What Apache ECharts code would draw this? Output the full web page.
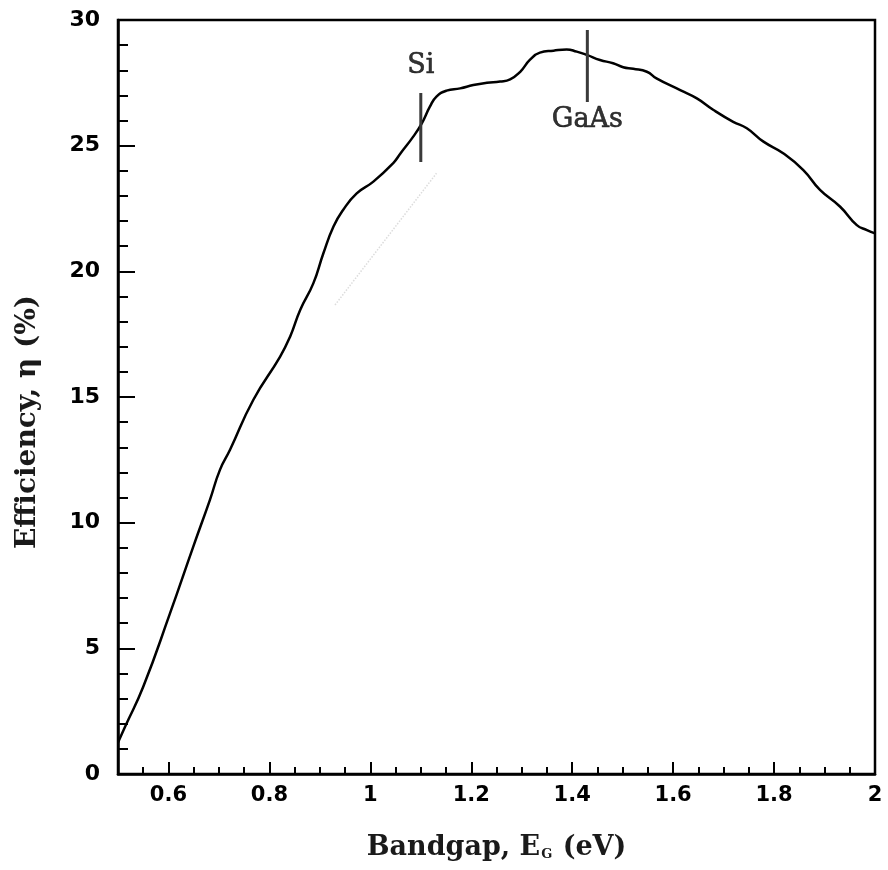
<!DOCTYPE html>
<html>
<head>
<meta charset="utf-8">
<script src="https://cdn.jsdelivr.net/npm/echarts@6/dist/echarts.min.js"></script>
<style>
html,body{margin:0;padding:0;background:#fff;}
#c{width:888px;height:870px;}
</style>
</head>
<body>
<div id="c"></div>
<script>
// Data
const bandgap = [0.5, 0.514, 0.55, 0.603, 0.649, 0.682, 0.702, 0.722, 0.768, 0.821, 0.841, 0.861, 0.887, 0.907, 0.927, 0.946, 0.973, 1.006, 1.045, 1.06, 1.085, 1.102, 1.118, 1.131, 1.151, 1.178, 1.204, 1.231, 1.257, 1.277, 1.297, 1.316, 1.336, 1.363, 1.389, 1.409, 1.429, 1.455, 1.481, 1.501, 1.521, 1.548, 1.567, 1.614, 1.647, 1.68, 1.719, 1.746, 1.779, 1.818, 1.858, 1.891, 1.931, 1.964, 1.984, 2.0];
const efficiency = [1.25, 1.88, 3.47, 6.39, 9.04, 10.9, 12.1, 12.9, 14.88, 16.6, 17.4, 18.46, 19.52, 20.72, 21.78, 22.44, 23.1, 23.57, 24.3, 24.7, 25.36, 25.89, 26.55, 26.95, 27.19, 27.28, 27.41, 27.5, 27.55, 27.64, 27.94, 28.41, 28.7, 28.78, 28.83, 28.74, 28.61, 28.41, 28.28, 28.12, 28.06, 27.94, 27.68, 27.21, 26.88, 26.42, 25.95, 25.69, 25.16, 24.7, 24.03, 23.24, 22.57, 21.84, 21.64, 21.51];
const faintX = [0.93, 1.131];
const faintY = [18.66, 23.9];
const siMarkX = [1.1, 1.1];
const siMarkY = [24.35, 27.1];
const gaasMarkX = [1.43, 1.43];
const gaasMarkY = [26.74, 29.6];
const materialNames = ['Si', 'GaAs'];
const xTickLabels = [0.6, 0.8, 1, 1.2, 1.4, 1.6, 1.8, 2];

const zip = (a, b) => a.map((v, i) => [v, b[i]]);

const chart = echarts.init(document.getElementById('c'), null, {renderer: 'canvas'});
const labelFont = {fontFamily: 'DejaVu Sans', fontWeight: 'bold', color: '#000'};
const serif = 'DejaVu Serif';

chart.setOption({
  animation: false,
  backgroundColor: '#fff',
  grid: {left: 118, top: 20, right: 13, bottom: 96, show: true, borderColor: '#000', borderWidth: 2.5, backgroundColor: 'transparent'},
  xAxis: [{
    type: 'value', min: 0.5, max: 2, interval: 0.05,
    axisLine: {show: true, lineStyle: {color: '#000', width: 2.5}},
    axisTick: {show: true, inside: true, length: 7, lineStyle: {color: '#000', width: 2}},
    axisLabel: {show: true, customValues: xTickLabels, margin: 11, fontSize: 21, ...labelFont},
    splitLine: {show: false},
    name: '{m|Bandgap, E}{sub|G}{m| (eV)}',
    nameLocation: 'middle', nameGap: 60,
    nameTextStyle: {fontFamily: serif, fontWeight: 'bold', fontSize: 27, color: '#1a1a1a',
      rich: {
        m: {fontFamily: serif, fontWeight: 'bold', fontSize: 27, lineHeight: 27, color: '#1a1a1a', verticalAlign: 'top'},
        sub: {fontFamily: serif, fontWeight: 'bold', fontSize: 13, lineHeight: 13, color: '#1a1a1a', verticalAlign: 'bottom', padding: [22, 1, 0, 1]}
      }}
  }, {
    type: 'value', min: 0.5, max: 2, position: 'bottom', gridIndex: 0,
    axisLine: {show: false},
    axisTick: {show: true, inside: true, length: 12, customValues: xTickLabels, lineStyle: {color: '#000', width: 2}},
    axisLabel: {show: false},
    splitLine: {show: false}
  }],
  yAxis: {
    type: 'value', min: 0, max: 30, interval: 5,
    axisLine: {show: true, lineStyle: {color: '#000', width: 2.5}},
    axisTick: {show: true, inside: true, length: 17, lineStyle: {color: '#000', width: 2}},
    minorTick: {show: true, splitNumber: 5, length: 10, lineStyle: {color: '#000', width: 2}},
    axisLabel: {margin: 18, fontSize: 22, ...labelFont},
    splitLine: {show: false}
  },
  graphic: [{
    type: 'text', x: 28, y: 422, rotation: Math.PI / 2,
    style: {text: 'Efficiency, η (%)', font: 'bold 28px "DejaVu Serif"', fill: '#1a1a1a', align: 'center', verticalAlign: 'middle'}
  }],
  series: [{
    type: 'line', data: zip(bandgap, efficiency), smooth: 0.5, showSymbol: false,
    lineStyle: {color: '#000', width: 2.5}
  }, {
    type: 'line', data: zip(faintX, faintY), showSymbol: false,
    lineStyle: {color: '#dcdcdc', width: 1.5, type: 'dotted'}
  }, {
    type: 'line', showSymbol: false, data: zip(siMarkX, siMarkY),
    lineStyle: {color: '#3a3a3a', width: 3}
  }, {
    type: 'line', showSymbol: false, data: zip(gaasMarkX, gaasMarkY),
    lineStyle: {color: '#3a3a3a', width: 3}
  }, {
    type: 'scatter', symbolSize: 0, silent: true,
    data: [
      {value: [siMarkX[1], siMarkY[1]], name: materialNames[0], label: {position: 'top', distance: 13}},
      {value: [gaasMarkX[0], gaasMarkY[0]], name: materialNames[1], label: {position: 'bottom', distance: 5}}
    ],
    label: {show: true, formatter: '{b}', fontFamily: serif, fontSize: 27, color: '#000', textBorderColor: '#000', textBorderWidth: 0.6}
  }]
});
</script>
</body>
</html>
